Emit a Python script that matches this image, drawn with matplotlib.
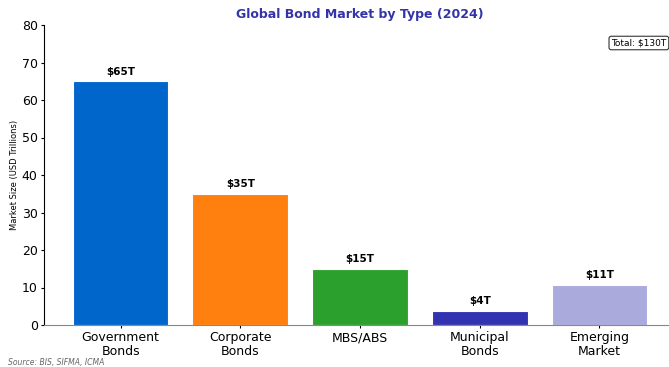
import matplotlib
matplotlib.use("Agg")
import matplotlib.pyplot as plt

# bond market sizes, USD trillions
categories = ["Government\nBonds", "Corporate\nBonds", "MBS/ABS", "Municipal\nBonds", "Emerging\nMarket"]
values = [65, 35, 15, 3.8, 10.8]
colors = ["#0066CC", "#FF800E", "#2CA02C", "#3333B2", "#AAAADD"]
total = 130

fig = plt.figure(figsize=(6.69, 3.67), dpi=100)
ax = fig.add_axes([44 / 669, 42 / 367, 632 / 669, 300 / 367])

x = range(len(categories))
bars = ax.bar(x, values, width=0.8, color=colors, edgecolor="white", linewidth=0.8)

for b, v in zip(bars, values):
    ax.text(b.get_x() + b.get_width() / 2, v + 1.2, f"${v:.0f}T",
            ha="center", va="bottom", fontsize=7.5, fontweight="bold")

ax.set_xticks(list(x))
ax.set_xticklabels(categories, fontsize=9, linespacing=1.1)
ax.set_ylim(0, 80)
ax.tick_params(axis="both", labelsize=9, length=2.5, pad=2)
ax.set_ylabel("Market Size (USD Trillions)", fontsize=6)
ax.yaxis.set_label_coords(-25 / 632, 0.5)

ax.spines["top"].set_visible(False)
ax.spines["right"].set_visible(False)
ax.spines["bottom"].set_color("#888888")

ax.set_title("Global Bond Market by Type (2024)", fontsize=9, fontweight="bold",
             color="#3333AA", pad=5)

ax.text(0.985, 0.955, f"Total: ${total}T", transform=ax.transAxes, ha="right", va="top",
        fontsize=6.5, bbox=dict(boxstyle="round,pad=0.25", facecolor="white", edgecolor="#333333", linewidth=0.8))

fig.text(8 / 669, 2 / 367, "Source: BIS, SIFMA, ICMA", fontsize=5.5, style="italic", color="#666666")

fig.savefig("out.png", dpi=100)
